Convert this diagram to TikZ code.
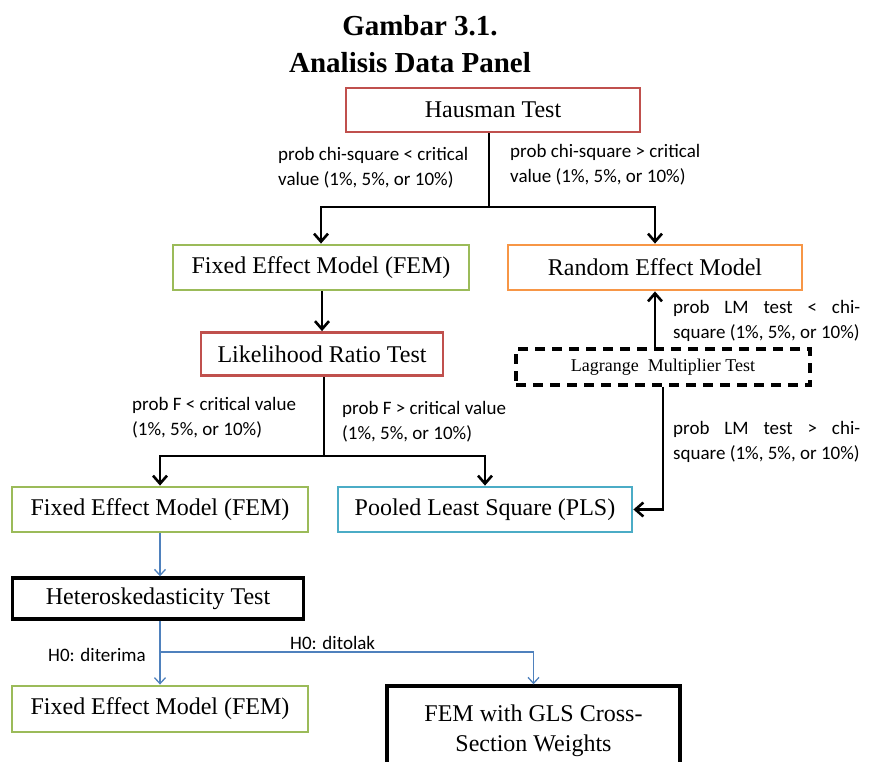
\documentclass[tikz,border=0pt]{standalone}
\usepackage{fontspec}
\setmainfont{Liberation Serif}
\newfontfamily\labelfont{Carlito}
\usetikzlibrary{arrows.meta}
\definecolor{boxred}{HTML}{C0504D}
\definecolor{boxgreen}{HTML}{9BBB59}
\definecolor{boxorange}{HTML}{F79646}
\definecolor{boxcyan}{HTML}{4BACC6}
\definecolor{linkblue}{HTML}{4F81BD}
\begin{document}
\begin{tikzpicture}[x=1pt,y=-1pt,
  box/.style={draw, rectangle, line width=2.8pt, inner sep=0pt, align=center,
    font=\fontsize{24}{30}\selectfont},
  conn/.style={draw, line width=2.8pt, -{Straight Barb[length=8pt,width=14pt,line width=2.6pt]}},
  plainconn/.style={draw, line width=2.8pt},
  blueconn/.style={draw=linkblue, line width=1.4pt, -{Straight Barb[length=6pt,width=11pt,line width=1.3pt]}},
  lab/.style={inner sep=0pt, align=left, font=\labelfont\fontsize{19}{25}\selectfont},
  ttl/.style={inner sep=0pt, font=\bfseries\fontsize{29}{34}\selectfont}]
\useasboundingbox (0,0) rectangle (873,761);
\clip (0,0) rectangle (873,761);

% titles
\node[ttl] (t1) at (420,26) {Gambar 3.1.};
\node[ttl] (t2) at (410,63) {Analisis Data Panel};

% boxes
\node[box, draw=boxred, minimum width=294pt, minimum height=44pt] (haus) at (493,110) {Hausman Test};
\node[box, draw=boxgreen, minimum width=296pt, minimum height=45pt] (fem1) at (321,267.5) {Fixed Effect Model (FEM)};
\node[box, draw=boxorange, minimum width=294pt, minimum height=45pt] (rem) at (655,267.5) {Random Effect Model};
\node[box, draw=boxred, minimum width=242pt, minimum height=43pt] (lrt) at (322,354) {Likelihood Ratio Test};
\node[box, draw=black, dash pattern=on 10pt off 7pt, line width=3.2pt, minimum width=294pt, minimum height=36pt,
  font=\fontsize{18}{22}\selectfont] (lm) at (663,367) {Lagrange\ \ Multiplier\ Test};
\node[box, draw=boxgreen, minimum width=296pt, minimum height=45pt] (fem2) at (160,509.5) {Fixed Effect Model (FEM)};
\node[box, draw=boxcyan, minimum width=294pt, minimum height=45pt] (pls) at (485,509.5) {Pooled Least Square (PLS)};
\node[box, draw=black, line width=3.4pt, minimum width=291pt, minimum height=41pt] (het) at (158,598.5) {Heteroskedasticity Test};
\node[box, draw=boxgreen, minimum width=296pt, minimum height=46pt] (fem3) at (160,709) {Fixed Effect Model (FEM)};
\node[box, draw=black, line width=3.4pt, minimum width=293pt, minimum height=90pt] (gls) at (533.5,731) {FEM with GLS Cross-\\Section Weights};

% Hausman split
\coordinate (hj) at (489,207);
\path[plainconn] (hj |- haus.south) -- (hj);
\path[conn] (hj) -| (fem1.north);
\path[conn] (hj) -| (rem.north);

% FEM -> Likelihood ratio
\path[conn] (lrt.north |- fem1.south) -- (lrt.north);

% Likelihood ratio split
\coordinate (lj) at (324,456);
\path[plainconn] (lj |- lrt.south) -- (lj);
\path[conn] (lj) -| (fem2.north);
\path[conn] (lj) -| (pls.north);

% Lagrange multiplier outcomes
\path[conn] (rem.south |- lm.north) -- (rem.south);
\path[conn] (lm.south) |- (pls.east);

% heteroskedasticity branch
\path[blueconn] (fem2.south) -- (het.north -| fem2.south);
\coordinate (bj) at (160,652);
\path[blueconn] (het.south -| bj) -- (fem3.north -| bj);
\path[blueconn] (bj) -| (gls.north);

% condition labels
\node[lab, anchor=west] (c1) at (278,167.5) {prob chi-square < critical\\value (1\%, 5\%, or 10\%)};
\node[lab, anchor=west] (c2) at (510,165) {prob chi-square > critical\\value (1\%, 5\%, or 10\%)};
\node[lab, anchor=west] (c3) at (673,320.5) {\makebox[187pt][s]{prob LM test < chi-}\\square (1\%, 5\%, or 10\%)};
\node[lab, anchor=west] (c4) at (673,441.5) {\makebox[187pt][s]{prob LM test > chi-}\\square (1\%, 5\%, or 10\%)};
\node[lab, anchor=west] (c5) at (132,417.5) {prob F < critical value\\(1\%, 5\%, or 10\%)};
\node[lab, anchor=west] (c6) at (342,422) {prob F > critical value\\(1\%, 5\%, or 10\%)};
\node[lab, anchor=west] (c7) at (48,655) {H0: diterima};
\node[lab, anchor=west] (c8) at (290,643) {H0: ditolak};
\end{tikzpicture}
\end{document}
